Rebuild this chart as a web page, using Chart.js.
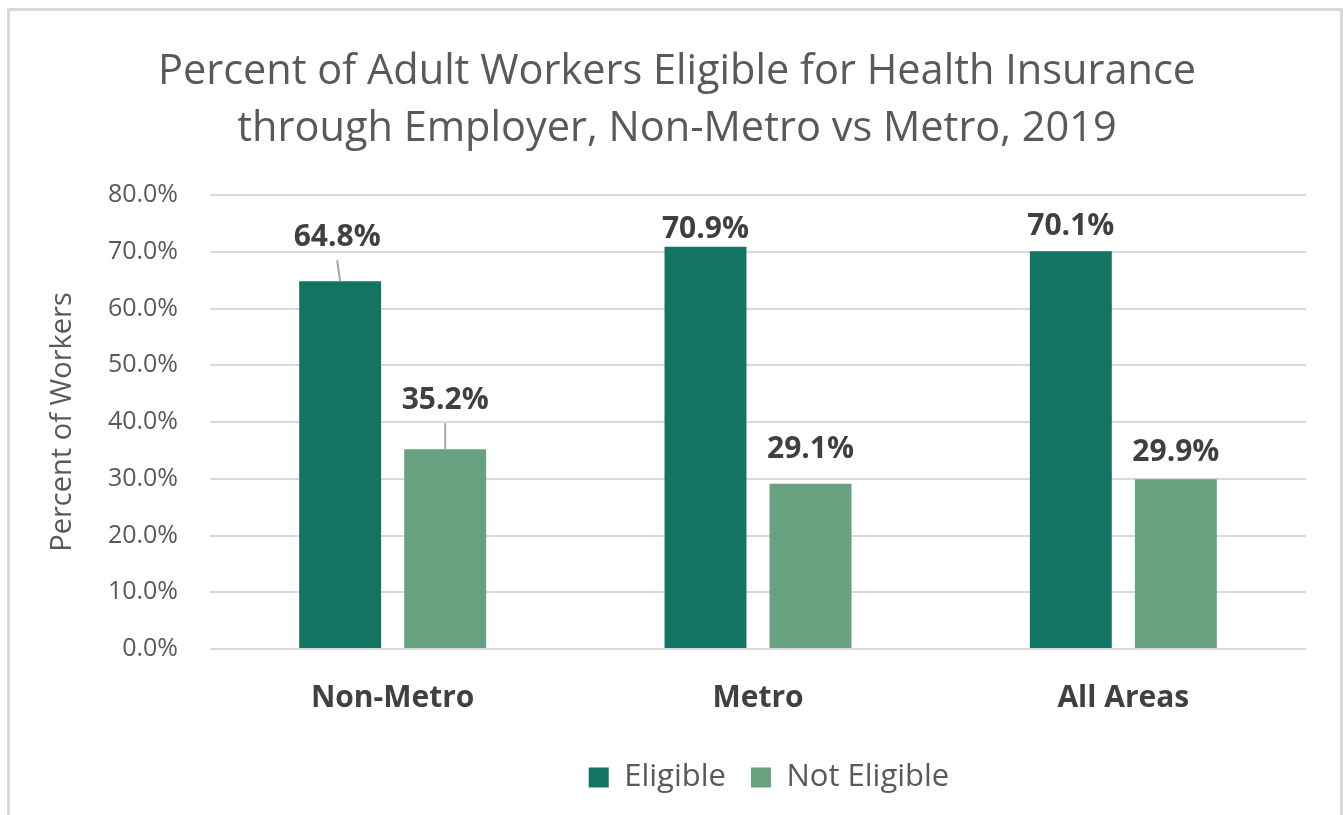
<!DOCTYPE html>
<html>
<head>
<meta charset="utf-8">
<title>Eligible for Health Insurance through Employer</title>
<script src="https://cdn.jsdelivr.net/npm/chart.js@4.4.1/dist/chart.umd.min.js"></script>
<style>
    html, body { margin: 0; padding: 0; background: #ffffff; overflow: hidden; }
    .frame {
        position: absolute; left: 7px; top: 8px;
        width: 1330px; height: 900px;
        border: 3px solid #d9d9d9;
    }
    .chart-box { position: absolute; left: 0; top: 0; width: 1343px; height: 815px; }
</style>
</head>
<body>
<div class="frame"></div>
<div class="chart-box"><canvas id="insuranceChart"></canvas></div>
<script>
// Chart data
const categories = ['Non-Metro', 'Metro', 'All Areas'];
const seriesNames = ['Eligible', 'Not Eligible'];
const eligibleValues = [64.8, 70.9, 70.1];
const notEligibleValues = [35.2, 29.1, 29.9];
const yAxisMin = 0;
const yAxisMax = 80;
const yAxisStep = 10;

const titleLines = [
    'Percent of Adult Workers Eligible for Health Insurance',
    'through Employer, Non-Metro vs Metro, 2019'
];

// Label placement (gap between bar top and label baseline), per dataset
const labelGaps = [[35, 9, 16], [40, 26, 18]];
const labelShiftX = [[-3, 0, 0], [0, 0, 0]];

// Draws the value labels above the bars, with leader lines for the lifted ones
const valueLabels = {
    id: 'valueLabels',
    afterDatasetsDraw(chart) {
        const ctx = chart.ctx;
        ctx.save();
        ctx.font = 'bold 30px "Open Sans", sans-serif';
        ctx.fillStyle = '#404040';
        ctx.textAlign = 'center';
        ctx.textBaseline = 'alphabetic';
        chart.data.datasets.forEach((ds, i) => {
            chart.getDatasetMeta(i).data.forEach((bar, j) => {
                let gap = labelGaps[i][j];
                let x = bar.x + labelShiftX[i][j];
                let y = bar.y - gap;
                ctx.fillText(ds.data[j].toFixed(1) + '%', x, y);
                if (gap > 30) {
                    ctx.strokeStyle = '#a6a6a6';
                    ctx.lineWidth = 2;
                    ctx.beginPath();
                    ctx.moveTo(x, y + 14);
                    ctx.lineTo(bar.x, bar.y);
                    ctx.stroke();
                }
            });
        });
        ctx.restore();
    }
};

// Re-centre title and legend the way the original sheet has them
const blockCentering = {
    id: 'blockCentering',
    afterLayout(chart) {
        if (chart.titleBlock) {
            chart.titleBlock.left = 11;
            chart.titleBlock.right = 1343;
        }
        if (chart.legend) {
            chart.legend.left = chart.chartArea.left + 11;
            chart.legend.right = chart.chartArea.right + 11;
        }
    }
};

const ctx = document.getElementById('insuranceChart').getContext('2d');
new Chart(ctx, {
    type: 'bar',
    data: {
        labels: categories,
        datasets: [{
            label: seriesNames[0],
            data: eligibleValues,
            backgroundColor: '#127463',
            categoryPercentage: 0.575,
            barPercentage: 0.78
        }, {
            label: seriesNames[1],
            data: notEligibleValues,
            backgroundColor: '#67a17f',
            categoryPercentage: 0.575,
            barPercentage: 0.78
        }]
    },
    options: {
        responsive: true,
        maintainAspectRatio: false,
        animation: false,
        layout: { padding: { left: 20, right: 37, top: 20, bottom: 12 } },
        plugins: {
            title: {
                display: true,
                text: titleLines,
                color: '#595959',
                font: { family: '"Open Sans", sans-serif', size: 41.5, weight: 'normal', lineHeight: 57 / 41.5 },
                padding: { top: 24, bottom: 37 }
            },
            legend: {
                position: 'bottom',
                labels: {
                    color: '#595959',
                    font: { family: '"Open Sans", sans-serif', size: 31 },
                    boxWidth: 20,
                    boxHeight: 20,
                    padding: 25
                }
            },
            tooltip: { enabled: false }
        },
        scales: {
            x: {
                grid: { display: false },
                border: { display: false },
                ticks: {
                    color: '#404040',
                    font: { family: '"Open Sans", sans-serif', size: 30, weight: 'bold' },
                    padding: 23
                },
                afterFit(scale) { scale.height = 88; }
            },
            y: {
                min: yAxisMin,
                max: yAxisMax,
                border: { display: false },
                grid: { color: '#d9d9d9', lineWidth: 2, drawTicks: false },
                ticks: {
                    stepSize: yAxisStep,
                    color: '#595959',
                    font: { family: '"Open Sans", sans-serif', size: 25 },
                    padding: 32,
                    callback: function (value) { return value.toFixed(1) + '%'; }
                },
                title: {
                    display: true,
                    text: 'Percent of Workers',
                    color: '#595959',
                    font: { family: '"Open Sans", sans-serif', size: 29 },
                    padding: { top: 25, bottom: 0 }
                },
                afterFit(scale) { scale.width = 190; }
            }
        }
    },
    plugins: [valueLabels, blockCentering]
});
</script>
</body>
</html>
